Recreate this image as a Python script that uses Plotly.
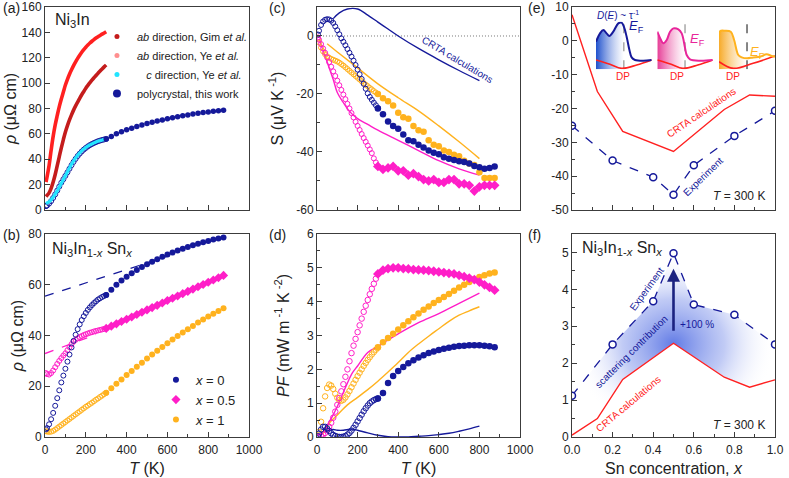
import plotly.graph_objects as go

# ---------------- colours ----------------
NAVY = "#15199a"
MAGENTA = "#ff1ec8"
ORANGE = "#ffb21e"
RED = "#ff2020"
DARKRED = "#c41c1c"
SALMON = "#ff8f8f"
CYAN = "#22e4ff"
AX = "#3c3c3c"
TXT = "#222222"

# ---------------- data ----------------
T_LOW = [5, 10, 20, 30, 40, 50, 60, 70, 80, 90, 100, 110, 120, 130, 140, 150,
         160, 170, 180, 190, 200, 210, 220, 230, 240, 250, 260, 270, 280, 290, 300]
T_HIGH = [300, 325, 350, 375, 400, 425, 450, 475, 500, 525, 550, 575, 600,
          625, 650, 675, 700, 725, 750, 775, 800, 825, 850, 875]

# (a) Ni3In resistivity, literature single crystals
RHO_AB_YE = [22, 26, 35, 47, 58, 67, 74.5, 81.5, 87.5, 93, 98.5, 103, 107, 110.5, 113.8, 116.8,
             119.5, 122, 124.3, 126.4, 128.3, 130, 131.6, 133, 134.3, 135.5, 136.6, 137.6, 138.6, 139.5, 140.5]
RHO_AB_GIM = [10.5, 11.5, 13.5, 17, 22, 28, 35, 42, 49, 55.5, 61.5, 66.5, 71, 75, 78.7, 82,
              85, 88, 90.8, 93.4, 96, 98.2, 100.3, 102.3, 104.2, 106, 107.8, 109.5, 111.2, 112.8, 114.3]
RHO_C_YE = [5, 5.5, 6.5, 8, 10, 12.5, 15, 18, 21, 24, 27, 30, 33, 36, 38.5, 41,
            43, 45, 46.6, 48, 49.2, 50.3, 51.3, 52.1, 52.9, 53.6, 54.2, 54.7, 55.2, 55.6, 56]

# resistivity, x = 0, 0.5, 1
RHO_X0_LOW = [3, 3.5, 5, 7, 9.5, 12.3, 15.3, 18.4, 21.5, 24.2, 26.9, 29.7, 32.5, 35.3, 37.9, 40.3,
              42.5, 44.4, 46.1, 47.6, 48.9, 50.1, 51.1, 52, 52.8, 53.5, 54.2, 54.7, 55.2, 55.6, 56]
RHO_X0_HIGH = [56, 58, 60, 61.7, 63.2, 64.5, 65.8, 67, 68.1, 69.1, 70.1, 71, 71.9, 72.7, 73.5,
               74.2, 74.9, 75.6, 76.2, 76.8, 77.3, 77.8, 78.2, 78.6]
RHO_X05_LOW = [25.2, 24.8, 24.6, 25.2, 26.2, 27.5, 28.8, 30, 31.1, 32.1, 33, 34.2, 35.4, 36.6, 37.6, 38.3,
               38.9, 39.4, 39.8, 40.2, 40.5, 40.8, 41.1, 41.3, 41.6, 41.8, 42, 42.2, 42.4, 42.6, 42.8]
RHO_X05_HIGH = [42.8, 43.7, 44.6, 45.5, 46.4, 47.3, 48.3, 49.2, 50.1, 51, 51.9, 52.8, 53.8, 54.7,
                55.6, 56.5, 57.4, 58.3, 59.2, 60.1, 61, 61.9, 62.8, 63.7]
RHO_X1_LOW = [2.3, 2.1, 2.0, 2.1, 2.4, 2.9, 3.5, 4.1, 4.7, 5.3, 5.9, 6.5, 7.1, 7.7, 8.3, 8.9,
              9.5, 10.1, 10.7, 11.3, 11.9, 12.4, 13, 13.5, 14.1, 14.7, 15.2, 15.8, 16.3, 16.9, 17.4]
RHO_X1_HIGH = [17.4, 19.2, 21, 22.7, 24.4, 26, 27.7, 29.3, 30.9, 32.5, 34, 35.5, 37, 38.4, 39.8,
               41.2, 42.5, 43.8, 45.1, 46.3, 47.5, 48.6, 49.7, 50.7]
FIT_X0_T = [0, 610]
FIT_X0_RHO = [55.5, 71.5]
FIT_X05_T = [0, 250]
FIT_X05_RHO = [32.9, 40.4]

# (c) Seebeck coefficient
S_X0_LOW = [0.5, 1.8, 3.8, 5, 5.6, 5.8, 5.7, 5.3, 4.5, 3.3, 2, 0.6, -0.8, -2, -3.2, -4.5,
            -5.8, -7.1, -8.5, -10, -11.6, -13.2, -14.8, -16.5, -18.2, -19.8, -21, -22, -23, -23.9, -24.8]
S_X0_HIGH = [-25, -27, -29.5, -31, -32, -34, -36, -36.3, -37.5, -38.5, -39.5, -40.3, -40.8, -41.8,
             -42.3, -42.8, -43.2, -43.5, -44, -44.8, -45.3, -45.8, -45.5, -45]
S_X05_LOW = [-0.5, -1.3, -2.8, -4.3, -5.8, -7.4, -9, -10.6, -12.2, -13.8, -15.4, -17, -18.6, -20.2, -21.8, -23.4,
             -25, -26.6, -28.1, -29.6, -31, -32.4, -33.8, -35.2, -36.5, -37.8, -39.1, -40.4, -42.2, -43.6, -45]
S_X05_HIGH = [-45, -46, -45.5, -45, -46.5, -46.5, -48, -47.5, -48.5, -49.5, -50, -49.5, -50.5, -50.5,
              -49.5, -49.5, -51, -51, -51.5, -53.5, -52, -51.5, -51.5, -51.5]
S_X1_LOW = [-1, -2.2, -4, -5.3, -6.3, -7, -7.5, -7.9, -8.2, -8.5, -8.8, -9.2, -9.7, -10.2, -10.8, -11.4,
            -12, -12.6, -13.2, -13.8, -14.4, -15, -15.6, -16.2, -16.8, -17.3, -17.9, -18.4, -19, -19.5, -20]
S_X1_HIGH = [-20, -21.5, -22.5, -24, -26.5, -28, -28.5, -31, -32.5, -33, -36, -37.5, -38, -39.5,
             -40, -41, -41.5, -43, -44, -44.5, -47, -49, -49, -49]
CRTA_S_X0_T = [80, 110, 150, 200, 250, 300, 350, 400, 500, 600, 700, 800]
CRTA_S_X0 = [6, 8, 9.3, 9.3, 7.2, 4.8, 2.4, 0, -4.3, -8.2, -11.9, -15.4]
CRTA_S_X05_T = [10, 50, 80, 100, 130, 160, 200, 250, 300, 400, 500, 600, 700, 800]
CRTA_S_X05 = [-1, -9, -15, -19.5, -23, -26, -28.5, -30.5, -32.5, -36, -39.5, -43, -45.8, -48]
CRTA_S_X1_T = [50, 100, 200, 300, 400, 500, 600, 700, 800]
CRTA_S_X1 = [-2.7, -5.5, -11, -16.5, -21.3, -25.8, -31, -36.5, -42.3]

# (d) power factor
PF_X0_LOW = [0.02, 0.1, 0.22, 0.3, 0.3, 0.25, 0.18, 0.11, 0.06, 0.03, 0.01, 0.0, 0.0, 0.01, 0.03, 0.07,
             0.12, 0.19, 0.27, 0.36, 0.46, 0.56, 0.66, 0.76, 0.85, 0.93, 1.0, 1.05, 1.09, 1.12, 1.14]
PF_X0_HIGH = [1.14, 1.3, 1.6, 1.8, 1.95, 2.07, 2.18, 2.27, 2.35, 2.42, 2.48, 2.53, 2.57, 2.61,
              2.64, 2.67, 2.69, 2.7, 2.71, 2.71, 2.71, 2.7, 2.68, 2.65]
PF_X05_LOW = [0, 0.01, 0.03, 0.07, 0.12, 0.2, 0.3, 0.42, 0.57, 0.75, 0.95, 1.15, 1.35, 1.56, 1.78, 2.0,
              2.24, 2.48, 2.7, 2.9, 3.1, 3.3, 3.5, 3.7, 3.88, 4.05, 4.22, 4.38, 4.53, 4.68, 4.82]
PF_X05_HIGH = [4.82, 4.93, 4.98, 5.0, 5.0, 4.98, 4.97, 4.95, 4.94, 4.93, 4.92, 4.9, 4.88, 4.86,
               4.84, 4.82, 4.78, 4.74, 4.7, 4.65, 4.58, 4.5, 4.42, 4.34]
PF_X1_LOW = [0.05, 0.15, 0.45, 0.85, 1.2, 1.45, 1.55, 1.52, 1.42, 1.28, 1.16, 1.09, 1.07, 1.1, 1.17, 1.26,
             1.36, 1.47, 1.58, 1.69, 1.8, 1.9, 2.0, 2.1, 2.19, 2.28, 2.36, 2.44, 2.51, 2.58, 2.64]
PF_X1_HIGH = [2.65, 2.8, 2.93, 3.05, 3.18, 3.3, 3.42, 3.54, 3.65, 3.76, 3.86, 3.96, 4.05, 4.14,
              4.23, 4.32, 4.42, 4.5, 4.58, 4.66, 4.73, 4.78, 4.83, 4.86]
CRTA_PF_X0_T = [40, 60, 80, 100, 130, 160, 180, 200, 250, 300, 350, 400, 450, 500, 550, 600, 650, 700, 750, 800]
CRTA_PF_X0 = [0.15, 0.2, 0.22, 0.2, 0.2, 0.23, 0.23, 0.2, 0.12, 0.05, 0.01, 0.0, 0.0, 0.02, 0.04,
              0.07, 0.11, 0.17, 0.24, 0.32]
CRTA_PF_X05_T = [20, 50, 75, 100, 125, 150, 175, 200, 250, 300, 350, 400, 500, 600, 700, 800]
CRTA_PF_X05 = [0.05, 0.35, 0.6, 0.9, 1.25, 1.6, 1.9, 2.1, 2.5, 2.68, 2.87, 3.05, 3.38, 3.65, 3.95, 4.25]
CRTA_PF_X1_T = [30, 65, 100, 150, 200, 250, 300, 350, 400, 450, 500, 550, 600, 650, 700, 750, 800]
CRTA_PF_X1 = [0.1, 0.44, 0.65, 0.95, 1.17, 1.4, 1.65, 1.92, 2.2, 2.5, 2.75, 2.98, 3.2, 3.42, 3.6, 3.73, 3.85]

# (e), (f) 300 K vs Sn concentration
X_EXP = [0, 0.2, 0.4, 0.5, 0.6, 0.8, 1.0]
S_EXP = [-25.1, -35.4, -40.3, -45.5, -36.8, -28.1, -20.7]
PF_EXP = [1.12, 2.51, 3.68, 4.98, 3.59, 3.31, 2.51]
X_CRTA = [0, 0.125, 0.25, 0.5, 0.75, 0.875, 1.0]
S_CRTA = [7.7, -15, -26.8, -32.7, -20.3, -16, -16.4]
PF_CRTA = [0.05, 0.5, 1.56, 2.54, 1.62, 1.35, 1.55]

# (e) schematic DOS insets (normalised energy / DOS)
DOS_E1 = [0, 0.072, 0.132, 0.19, 0.24, 0.31, 0.40, 0.46, 0.50, 0.55, 0.60, 0.64, 0.70, 0.85, 1.0]
DOS_D1 = [0.58, 0.755, 0.825, 0.755, 0.70, 0.79, 0.965, 0.98, 0.895, 0.685, 0.405, 0.25, 0.196, 0.18, 0.196]
DOS_E2 = [0, 0.06, 0.108, 0.169, 0.229, 0.289, 0.38, 0.44, 0.5, 0.53, 0.59, 0.77, 1.0]
DOS_D2 = [0.79, 0.63, 0.545, 0.615, 0.79, 0.86, 0.84, 0.755, 0.45, 0.30, 0.21, 0.18, 0.196]
DOS_E3 = [0, 0.018, 0.107, 0.21, 0.27, 0.345, 0.405, 0.5, 0.61, 0.73, 0.85, 0.94, 1.0]
DOS_D3 = [0.65, 0.80, 0.81, 0.79, 0.615, 0.30, 0.25, 0.23, 0.25, 0.265, 0.315, 0.28, 0.265]
DP_E12 = [0, 0.25, 0.46, 0.73, 1.0]
DP_V12 = [0.196, 0.105, 0.02, 0.09, 0.196]
DP_E3 = [0, 0.256, 0.61, 1.0]
DP_V3 = [0.16, 0.02, 0.126, 0.28]
E_FERMI = [0.5, 0.5, 0.5]

# tick values / labels
T_TICKS = [0, 200, 400, 600, 800, 1000]
T_TICKTEXT = ["0", "200", "400", "600", "800", "1000"]
RHO_A_TICKS = [0, 20, 40, 60, 80, 100, 120, 140, 160]
RHO_B_TICKS = [0, 20, 40, 60, 80]
S_TICKS = [-60, -40, -20, 0]
S_TICKTEXT = ["-60", "-40", "-20", "0"]
PF_TICKS = [0, 1, 2, 3, 4, 5, 6]
X_TICKS = [0, 0.2, 0.4, 0.6, 0.8, 1.0]
X_TICKTEXT = ["0.0", "0.2", "0.4", "0.6", "0.8", "1.0"]
SE_TICKS = [-50, -40, -30, -20, -10, 0, 10]
SE_TICKTEXT = ["-50", "-40", "-30", "-20", "-10", "0", "10"]
PFF_TICKS = [0, 1, 2, 3, 4, 5]

# ---------------- figure ----------------
fig = go.Figure()


def line(x, y, ax, color, width=1.4, dash=None, shape="spline"):
    fig.add_trace(go.Scatter(x=x, y=y, mode="lines", xaxis="x" + ax, yaxis="y" + ax,
                             line=dict(color=color, width=width, dash=dash, shape=shape),
                             showlegend=False, hoverinfo="skip"))


def pts(x, y, ax, color, symbol="circle", size=6, name=None, legend=None):
    openm = symbol.endswith("open")
    fig.add_trace(go.Scatter(x=x, y=y, mode="markers", xaxis="x" + ax, yaxis="y" + ax,
                             marker=dict(symbol=symbol, size=size, color=color,
                                         line=dict(width=1 if openm else 0, color=color)),
                             name=name, showlegend=name is not None,
                             legend=legend if legend else "legend", hoverinfo="skip"))


# ---- (a)
pts(T_LOW, RHO_X0_LOW, "", NAVY, "circle-open", 5)
line(T_LOW, RHO_AB_YE, "", RED, 3.6)
line(T_LOW, RHO_AB_GIM, "", DARKRED, 3.6)
line(T_LOW, RHO_C_YE, "", CYAN, 3.2)
pts(T_HIGH, RHO_X0_HIGH, "", NAVY, "circle", 5.5)
# legend entries for (a)
for nm, col, sz in [("<i>ab</i> direction, Gim <i>et al.</i>", DARKRED, 5),
                    ("<i>ab</i> direction, Ye <i>et al.</i>", SALMON, 5),
                    ("\u00a0\u00a0\u00a0<i>c</i> direction, Ye <i>et al.</i>", CYAN, 5),
                    ("polycrystal, this work", NAVY, 8)]:
    pts([None], [None], "", col, "circle", sz, name=nm, legend="legend")

# ---- (b)
line(FIT_X0_T, FIT_X0_RHO, "2", NAVY, 1.3, "dash", "linear")
line(FIT_X05_T, FIT_X05_RHO, "2", MAGENTA, 1.3, "dash", "linear")
pts(T_LOW, RHO_X1_LOW, "2", ORANGE, "circle-open", 5)
pts(T_LOW, RHO_X05_LOW, "2", MAGENTA, "circle-open", 5)
pts(T_LOW, RHO_X0_LOW, "2", NAVY, "circle-open", 5)
pts(T_HIGH, RHO_X0_HIGH, "2", NAVY, "circle", 6, name="<i>x</i> = 0", legend="legend2")
pts(T_HIGH, RHO_X05_HIGH, "2", MAGENTA, "diamond", 7, name="<i>x</i> = 0.5", legend="legend2")
pts(T_HIGH, RHO_X1_HIGH, "2", ORANGE, "circle", 6, name="<i>x</i> = 1", legend="legend2")

# ---- (c)
line(CRTA_S_X0_T, CRTA_S_X0, "3", NAVY, 1.4)
line(CRTA_S_X05_T, CRTA_S_X05, "3", MAGENTA, 1.4)
line(CRTA_S_X1_T, CRTA_S_X1, "3", ORANGE, 1.4)
pts(T_LOW, S_X1_LOW, "3", ORANGE, "circle-open", 5)
pts(T_LOW, S_X05_LOW, "3", MAGENTA, "circle-open", 5)
pts(T_LOW, S_X0_LOW, "3", NAVY, "circle-open", 5)
pts(T_HIGH, S_X1_HIGH, "3", ORANGE, "circle", 6.5)
pts(T_HIGH, S_X05_HIGH, "3", MAGENTA, "diamond", 7.5)
pts(T_HIGH, S_X0_HIGH, "3", NAVY, "circle", 6.5)

# ---- (d)
line(CRTA_PF_X0_T, CRTA_PF_X0, "4", NAVY, 1.4)
line(CRTA_PF_X05_T, CRTA_PF_X05, "4", MAGENTA, 1.4)
line(CRTA_PF_X1_T, CRTA_PF_X1, "4", ORANGE, 1.4)
pts(T_LOW, PF_X1_LOW, "4", ORANGE, "circle-open", 5.5)
pts(T_LOW, PF_X05_LOW, "4", MAGENTA, "circle-open", 5.5)
pts(T_LOW, PF_X0_LOW, "4", NAVY, "circle-open", 5.5)
pts(T_HIGH, PF_X1_HIGH, "4", ORANGE, "circle", 6.5)
pts(T_HIGH, PF_X05_HIGH, "4", MAGENTA, "diamond", 7.5)
pts(T_HIGH, PF_X0_HIGH, "4", NAVY, "circle", 6.5)

# ---- (e)
line(X_CRTA, S_CRTA, "5", RED, 1.4, None, "linear")
fig.add_trace(go.Scatter(x=X_EXP, y=S_EXP, mode="lines+markers", xaxis="x5", yaxis="y5",
                         line=dict(color=NAVY, width=1.3, dash="dash"),
                         marker=dict(symbol="circle", size=7, color="white", line=dict(color=NAVY, width=1.5)),
                         showlegend=False, hoverinfo="skip"))

# ---- (f)
poly_x = X_EXP + X_CRTA[::-1]
poly_y = PF_EXP + PF_CRTA[::-1]
fig.add_trace(go.Scatter(x=poly_x, y=poly_y, mode="lines", fill="toself", xaxis="x6", yaxis="y6",
                         line=dict(width=0, color="rgba(0,0,0,0)"),
                         fillgradient=dict(type="radial",
                                           colorscale=[[0, "rgba(70,100,225,0.85)"],
                                                       [0.5, "rgba(130,150,235,0.5)"],
                                                       [1, "rgba(255,255,255,0)"]]),
                         showlegend=False, hoverinfo="skip"))
line(X_CRTA, PF_CRTA, "6", RED, 1.4, None, "linear")
fig.add_trace(go.Scatter(x=X_EXP, y=PF_EXP, mode="lines+markers", xaxis="x6", yaxis="y6",
                         line=dict(color=NAVY, width=1.3, dash="dash"),
                         marker=dict(symbol="circle", size=7, color="white", line=dict(color=NAVY, width=1.5)),
                         showlegend=False, hoverinfo="skip"))

# ---- (e) insets
insets = [("7", DOS_E1, DOS_D1, DP_E12, DP_V12, NAVY, "rgb(30,80,205)", "#888888"),
          ("8", DOS_E2, DOS_D2, DP_E12, DP_V12, "#e8259a", "rgb(230,60,150)", "#888888"),
          ("9", DOS_E3, DOS_D3, DP_E3, DP_V3, ORANGE, "rgb(247,170,40)", "#222222")]
for i, (ax, e, d, de, dv, lc, fc, efc) in enumerate(insets):
    ef = E_FERMI[i]
    fe = [v for v in e if v <= ef]
    fd = d[:len(fe)]
    fig.add_trace(go.Scatter(x=fe, y=fd, mode="lines", fill="tozeroy", xaxis="x" + ax, yaxis="y" + ax,
                             line=dict(width=0, shape="spline", color="rgba(0,0,0,0)"),
                             fillgradient=dict(type="horizontal",
                                               colorscale=[[0, fc], [1, "rgba(255,255,255,0.6)"]]),
                             showlegend=False, hoverinfo="skip"))
    line([ef, ef], [0, 1], ax, efc, 1.1, "dash", "linear")
    line(de, dv, ax, RED, 1.6)
    line(e, d, ax, lc, 2.0)

# ---------------- axes ----------------
XD = [[0, 0.2795], [0.3726, 0.6507], [0.7219, 1.0]]
YD_TOP = [0.528, 1.0]
YD_BOT = [0.0, 0.472]
TF = dict(size=12, color=TXT)
TITF = dict(size=16, color=TXT)


def base(domain, anchor, rng, tickvals, ticktext=None, minor=None, labels=True, title=None, standoff=None,
         lstand=None):
    d = dict(domain=domain, anchor=anchor, range=rng, tickmode="array", tickvals=tickvals,
             ticks="inside", ticklen=5, tickwidth=1, tickcolor=AX, showline=True, linecolor=AX,
             linewidth=1, mirror=True, showgrid=False, zeroline=False, tickfont=TF,
             showticklabels=labels, fixedrange=True, automargin=False)
    if lstand is not None:
        d["ticklabelstandoff"] = lstand
    if ticktext is not None:
        d["ticktext"] = ticktext
    if minor is not None:
        d["minor"] = dict(dtick=minor, ticks="inside", ticklen=3, tickwidth=1, tickcolor=AX, showgrid=False)
    if title:
        d["title"] = dict(text=title, font=TITF)
        if standoff is not None:
            d["title"]["standoff"] = standoff
    return d


rho_t = "<i>ρ</i> (μΩ cm)"
T_t = "<i>T</i> (K)"
layout_axes = dict(
    xaxis=base(XD[0], "y", [0, 1000], T_TICKS, T_TICKTEXT, 100, False),
    yaxis=base(YD_TOP, "x", [0, 160], RHO_A_TICKS, None, None, True, rho_t, 0),
    xaxis2=base(XD[0], "y2", [0, 1000], T_TICKS, T_TICKTEXT, 100, True, T_t, 6, 2),
    yaxis2=base(YD_BOT, "x2", [0, 80], RHO_B_TICKS, None, None, True, rho_t, 0),
    xaxis3=base(XD[1], "y3", [0, 1000], T_TICKS, T_TICKTEXT, 100, False),
    yaxis3=base(YD_TOP, "x3", [-60, 10], S_TICKS, S_TICKTEXT, 10, True, "S (μV K<sup> -1</sup>)", 8),
    xaxis4=base(XD[1], "y4", [0, 1000], T_TICKS, T_TICKTEXT, 100, True, T_t, 6, 2),
    yaxis4=base(YD_BOT, "x4", [0, 6], PF_TICKS, None, 0.5, True,
                "<i>PF</i> (mW m<sup> -1</sup> K<sup> -2</sup>)", 13),
    xaxis5=base(XD[2], "y5", [0, 1.0], X_TICKS, X_TICKTEXT, 0.1, False),
    yaxis5=base(YD_TOP, "x5", [-50, 10], SE_TICKS, SE_TICKTEXT, 5, True),
    xaxis6=base(XD[2], "y6", [0, 1.0], X_TICKS, X_TICKTEXT, 0.1, True, "Sn concentration, <i>x</i>", 6, 2),
    yaxis6=base(YD_BOT, "x6", [0, 5.5], PFF_TICKS, None, 0.5, True),
)
INSET_XD = [[0.7548, 0.8311], [0.8388, 0.9147], [0.9233, 1.0]]
INSET_YD = [0.8551, 0.9658]
for i, ax in enumerate(["7", "8", "9"]):
    layout_axes["xaxis" + ax] = dict(domain=INSET_XD[i], anchor="y" + ax, range=[0, 1], visible=False,
                                     fixedrange=True)
    layout_axes["yaxis" + ax] = dict(domain=INSET_YD, anchor="x" + ax, range=[0, 1], visible=False,
                                     fixedrange=True)

# ---------------- annotations ----------------
ann = []


def txt(text, x, y, xref, yref, size=12, color=TXT, xanchor="center", yanchor="middle", angle=0):
    ann.append(dict(text=text, x=x, y=y, xref=xref, yref=yref, showarrow=False, font=dict(size=size, color=color),
                    xanchor=xanchor, yanchor=yanchor, textangle=angle))


for lab, xp, yp in [("(a)", -0.0603, 0.9977), ("(b)", -0.0603, 0.4698), ("(c)", 0.3041, 0.9977),
                    ("(d)", 0.3041, 0.4698), ("(e)", 0.6589, 0.9977), ("(f)", 0.6589, 0.4698)]:
    txt(lab, xp, yp, "paper", "paper", 14, xanchor="left")

txt("Ni<sub>3</sub>In", 38, 149, "x", "y", 16, xanchor="left")
txt("Ni<sub>3</sub>In<sub>1-<i>x</i></sub> Sn<sub><i>x</i></sub>", 23, 74, "x2", "y2", 16, xanchor="left")
txt("Ni<sub>3</sub>In<sub>1-<i>x</i></sub> Sn<sub><i>x</i></sub>", 0.04, 5.1, "x6", "y6", 16, xanchor="left")
txt("CRTA calculations", 690, -8.2, "x3", "y3", 10, NAVY, angle=31)
txt("CRTA calculations", 0.638, -21.3, "x5", "y5", 10, RED, angle=-34)
txt("Experiment", 0.647, -40.2, "x5", "y5", 10, NAVY, angle=-44)
txt("<i>T</i> = 300 K", 0.96, -45.8, "x5", "y5", 12, xanchor="right")
txt("<i>T</i> = 300 K", 0.96, 0.33, "x6", "y6", 12, xanchor="right")
txt("Experiment", 0.369, 4.03, "x6", "y6", 10, NAVY, angle=-54)
txt("scattering contribution", 0.292, 2.33, "x6", "y6", 10, NAVY, angle=-45)
txt("CRTA calculations", 0.28, 0.9, "x6", "y6", 10, RED, angle=-40)
txt("+100 %", 0.523, 3.06, "x6", "y6", 10, NAVY, xanchor="left")
# inset labels (paper coordinates)
txt("<i>D</i>(<i>E</i>) ~ τ<sup>-1</sup>", 0.7534, 0.9814, "paper", "paper", 10, NAVY, xanchor="left")
txt("<i>E</i><sub>F</sub>", 0.7973, 0.9535, "paper", "paper", 13, NAVY, xanchor="left")
txt("<i>E</i><sub>F</sub>", 0.8808, 0.9233, "paper", "paper", 13, "#e8259a", xanchor="left")
txt("<i>E</i><sub>F</sub>", 0.963, 0.8953, "paper", "paper", 13, ORANGE, xanchor="left")
for xp in [0.7918, 0.8658, 0.9425]:
    txt("DP", xp, 0.8395, "paper", "paper", 10, RED)
# arrow in (f)
ann.append(dict(x=X_EXP[3], y=PF_EXP[3] - 0.42, ax=X_CRTA[3], ay=PF_CRTA[3] + 0.3,
                xref="x6", yref="y6", axref="x6", ayref="y6", showarrow=True, text="",
                arrowhead=2, arrowsize=1, arrowwidth=2.6, arrowcolor="#1b2280"))

fig.update_layout(
    width=789, height=478, margin=dict(l=45, r=14, t=7, b=41, autoexpand=False),
    paper_bgcolor="white", plot_bgcolor="white",
    font=dict(family="Liberation Sans, Arial, sans-serif", size=12, color=TXT),
    annotations=ann,
    shapes=[dict(type="line", xref="x3", yref="y3", x0=0, x1=1000, y0=0, y1=0,
                 line=dict(color="#555555", width=0.8, dash="1px,2px"), layer="below")],
    legend=dict(x=0.0712, y=0.965, xanchor="left", yanchor="top", bgcolor="rgba(0,0,0,0)",
                font=dict(size=11, color=TXT), itemsizing="trace", tracegroupgap=0),
    legend2=dict(x=0.152, y=0.168, xanchor="left", yanchor="top", bgcolor="rgba(0,0,0,0)",
                 font=dict(size=13, color=TXT), itemsizing="trace", tracegroupgap=0),
    **layout_axes,
)

fig.write_html("out.html", config={"displayModeBar": False, "staticPlot": False},
               post_script="document.body.style.margin='0px';")
